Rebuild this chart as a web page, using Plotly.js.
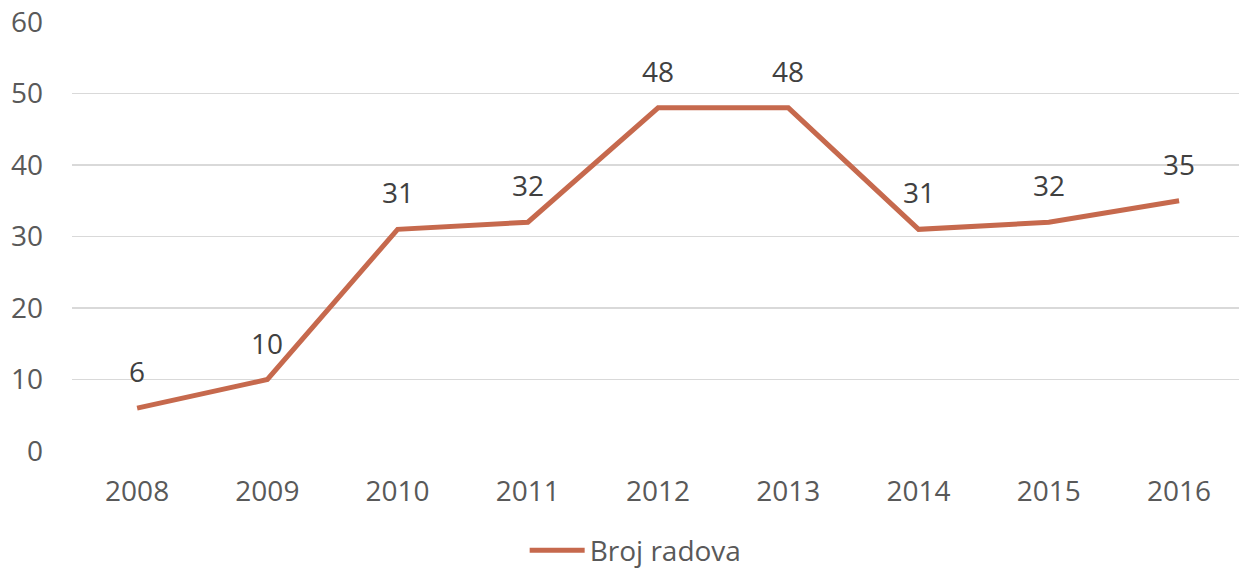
<!DOCTYPE html>
<html>
<head>
<meta charset="utf-8">
<script src="https://cdn.plot.ly/plotly-3.0.1.min.js"></script>
<style>html,body{margin:0;padding:0;background:#fff;}#chart{width:1239px;height:569px;}</style>
</head>
<body>
<div id="chart"></div>
<script>
const years = ['2008','2009','2010','2011','2012','2013','2014','2015','2016'];
const values = [6, 10, 31, 32, 48, 48, 31, 32, 35];
const seriesName = 'Broj radova';
const yTicks = [0, 10, 20, 30, 40, 50, 60];

const FONT = '"Open Sans", "Segoe UI", sans-serif';
const FS = 28;

const trace = {
  x: years,
  y: values,
  type: 'scatter',
  mode: 'lines',
  name: seriesName,
  line: {color: '#C6694D', width: 5},
  hoverinfo: 'skip'
};

const annotations = years.map((yr, i) => ({
  x: i, y: values[i], xref: 'x', yref: 'y',
  text: String(values[i]), showarrow: false,
  yshift: 37, font: {family: FONT, size: FS, color: '#404040'}
}));

const layout = {
  width: 1239, height: 569,
  margin: {l: 72, r: 0, t: 22, b: 118, autoexpand: false},
  paper_bgcolor: '#fff', plot_bgcolor: '#fff',
  font: {family: FONT, size: FS, color: '#595959'},
  showlegend: true,
  legend: {
    orientation: 'h', x: 0.483, xanchor: 'center',
    y: -0.232, yref: 'paper', yanchor: 'middle',
    itemwidth: 55, tracegroupgap: 0,
    font: {family: FONT, size: FS, color: '#595959'}
  },
  xaxis: {
    type: 'category', range: [-0.5, 8.46],
    showgrid: false, zeroline: false, showline: false,
    ticks: '', ticklabelstandoff: 21, automargin: false,
    tickfont: {family: FONT, size: FS, color: '#595959'}
  },
  yaxis: {
    range: [0, 60], tickvals: yTicks, ticktext: yTicks.map(String),
    showgrid: true, gridcolor: '#D9D9D9', gridwidth: 1.5,
    zeroline: false, showline: false, ticks: '', automargin: false,
    ticklabelstandoff: 28,
    tickfont: {family: FONT, size: FS, color: '#595959'}
  },
  annotations: annotations
};

Plotly.newPlot('chart', [trace], layout, {displayModeBar: false, staticPlot: true});
</script>
</body>
</html>
